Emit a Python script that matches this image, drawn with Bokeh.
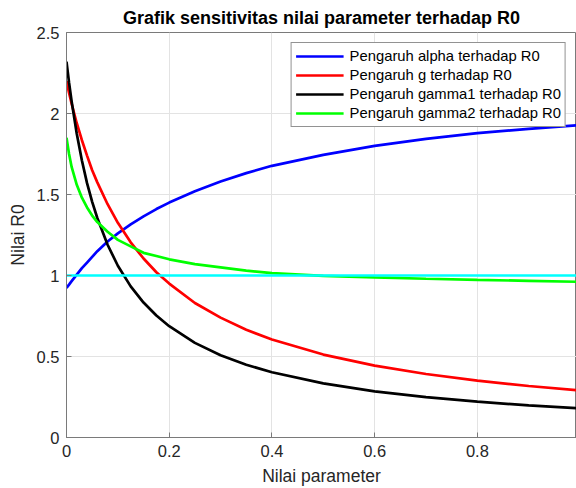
from bokeh.plotting import figure
from bokeh.models import Range1d, FixedTicker, Legend, LegendItem
from bokeh.embed import file_html
from bokeh.resources import INLINE

# ---- data ----
x_vals = [0, 0.005, 0.01, 0.02, 0.03, 0.04, 0.05, 0.06, 0.08, 0.1, 0.125, 0.15,
          0.175, 0.2, 0.25, 0.3, 0.35, 0.4, 0.5, 0.6, 0.7, 0.8, 0.9, 1.0]
alpha_r0 = [0.924, 0.944, 0.965, 1.005, 1.045, 1.08, 1.115, 1.15, 1.21, 1.26, 1.315, 1.365,
            1.41, 1.45, 1.52, 1.58, 1.632, 1.677, 1.745, 1.80, 1.843, 1.879, 1.905, 1.928]
g_r0 = [2.20, 2.127, 2.06, 1.94, 1.835, 1.74, 1.65, 1.575, 1.44, 1.325, 1.205, 1.105,
        1.02, 0.95, 0.83, 0.74, 0.665, 0.605, 0.512, 0.444, 0.392, 0.351, 0.318, 0.29]
gamma1_r0 = [2.32, 2.19, 2.075, 1.875, 1.71, 1.57, 1.455, 1.355, 1.19, 1.06, 0.933, 0.833,
             0.753, 0.687, 0.584, 0.508, 0.449, 0.403, 0.334, 0.285, 0.249, 0.221, 0.198, 0.18]
gamma2_r0 = [1.85, 1.75, 1.67, 1.56, 1.48, 1.42, 1.37, 1.33, 1.27, 1.22, 1.18, 1.14,
             1.12, 1.10, 1.07, 1.05, 1.03, 1.015, 0.998, 0.988, 0.98, 0.973, 0.967, 0.961]
threshold_x = [0, 1.0]
threshold_y = [1, 1]

series_labels = ["Pengaruh alpha terhadap R0", "Pengaruh g terhadap R0",
                 "Pengaruh gamma1 terhadap R0", "Pengaruh gamma2 terhadap R0"]
x_ticks = [0, 0.2, 0.4, 0.6, 0.8]
x_tick_labels = ["0", "0.2", "0.4", "0.6", "0.8"]
y_ticks = [0, 0.5, 1, 1.5, 2, 2.5]
y_tick_labels = ["0", "0.5", "1", "1.5", "2", "2.5"]

FONT = "Liberation Sans"
TXT = "#262626"
AX = "#7a7a7a"

p = figure(width=576, height=488, output_backend="svg", toolbar_location=None,
           x_range=Range1d(0, 0.993), y_range=Range1d(0, 2.5),
           min_border_left=66, min_border_right=0, min_border_top=32, min_border_bottom=50,
           title="Grafik sensitivitas nilai parameter terhadap R0")
p.background_fill_color = "white"
p.border_fill_color = "white"
p.outline_line_color = AX
p.outline_line_width = 1

p.title.text_font = FONT
p.title.text_font_size = "18px"
p.title.text_font_style = "bold"
p.title.text_color = "black"
p.title.align = "center"

p.xaxis.ticker = FixedTicker(ticks=x_ticks)
p.yaxis.ticker = FixedTicker(ticks=y_ticks)
p.xaxis.major_label_overrides = {t: l for t, l in zip(x_ticks, x_tick_labels)}
p.yaxis.major_label_overrides = {t: l for t, l in zip(y_ticks, y_tick_labels)}
p.xaxis.axis_label = "Nilai parameter"
p.yaxis.axis_label = "Nilai R0"
for ax in (p.xaxis[0], p.yaxis[0]):
    ax.axis_line_color = AX
    ax.major_tick_line_color = AX
    ax.major_tick_in = 5
    ax.major_tick_out = 0
    ax.minor_tick_line_color = None
    ax.major_label_text_font = FONT
    ax.major_label_text_font_size = "16.5px"
    ax.major_label_text_color = TXT
    ax.axis_label_text_font = FONT
    ax.axis_label_text_font_size = "17.5px"
    ax.axis_label_text_font_style = "normal"
    ax.axis_label_text_color = TXT
    ax.major_label_standoff = 7
    ax.axis_label_standoff = 6

p.xgrid.grid_line_color = "#e3e3e3"
p.ygrid.grid_line_color = "#e3e3e3"

lw = 2.7
r1 = p.line(x_vals, alpha_r0, line_color="#0000ff", line_width=lw)
r2 = p.line(x_vals, g_r0, line_color="#ff0000", line_width=lw)
r3 = p.line(x_vals, gamma1_r0, line_color="#000000", line_width=lw)
r4 = p.line(x_vals, gamma2_r0, line_color="#00ff00", line_width=lw)
p.line(threshold_x, threshold_y, line_color="#00ffff", line_width=lw)

legend = Legend(items=[LegendItem(label=l, renderers=[r]) for l, r in
                       zip(series_labels, [r1, r2, r3, r4])],
                location="top_right")
legend.label_text_font = FONT
legend.label_text_font_size = "14.8px"
legend.label_text_color = "black"
legend.glyph_width = 48
legend.glyph_height = 18
legend.label_height = 18
legend.label_standoff = 6
legend.spacing = 1
legend.padding = 4
legend.margin = 10
legend.border_line_color = TXT
legend.border_line_width = 1
legend.background_fill_color = "white"
legend.background_fill_alpha = 1
p.add_layout(legend)

open("out.html", "w").write(file_html(p, INLINE))
